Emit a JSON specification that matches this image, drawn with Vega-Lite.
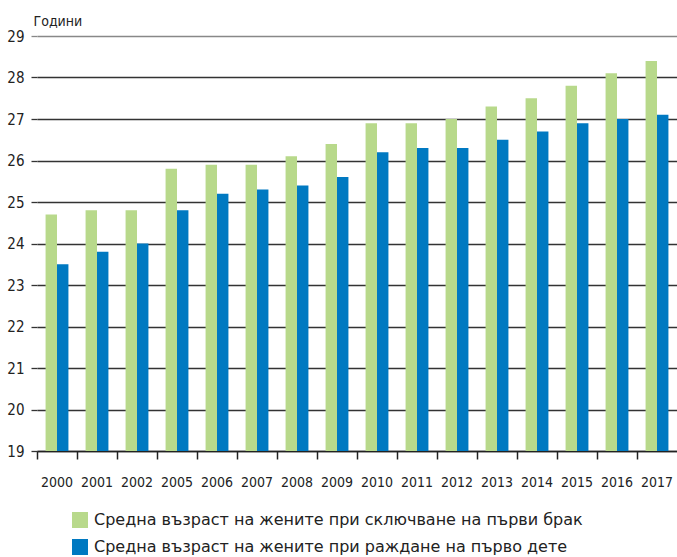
{
  "$schema": "https://vega.github.io/schema/vega-lite/v6.json",
  "width": 640,
  "height": 415,
  "autosize": "none",
  "padding": {"left": 37, "top": 36, "right": 0, "bottom": 106},
  "background": "white",
  "data": {"values": [
    {"year": "2000", "s": "Средна възраст на жените при сключване на първи брак", "v": 24.7},
    {"year": "2001", "s": "Средна възраст на жените при сключване на първи брак", "v": 24.8},
    {"year": "2002", "s": "Средна възраст на жените при сключване на първи брак", "v": 24.8},
    {"year": "2005", "s": "Средна възраст на жените при сключване на първи брак", "v": 25.8},
    {"year": "2006", "s": "Средна възраст на жените при сключване на първи брак", "v": 25.9},
    {"year": "2007", "s": "Средна възраст на жените при сключване на първи брак", "v": 25.9},
    {"year": "2008", "s": "Средна възраст на жените при сключване на първи брак", "v": 26.1},
    {"year": "2009", "s": "Средна възраст на жените при сключване на първи брак", "v": 26.4},
    {"year": "2010", "s": "Средна възраст на жените при сключване на първи брак", "v": 26.9},
    {"year": "2011", "s": "Средна възраст на жените при сключване на първи брак", "v": 26.9},
    {"year": "2012", "s": "Средна възраст на жените при сключване на първи брак", "v": 27.0},
    {"year": "2013", "s": "Средна възраст на жените при сключване на първи брак", "v": 27.3},
    {"year": "2014", "s": "Средна възраст на жените при сключване на първи брак", "v": 27.5},
    {"year": "2015", "s": "Средна възраст на жените при сключване на първи брак", "v": 27.8},
    {"year": "2016", "s": "Средна възраст на жените при сключване на първи брак", "v": 28.1},
    {"year": "2017", "s": "Средна възраст на жените при сключване на първи брак", "v": 28.4},
    {"year": "2000", "s": "Средна възраст на жените при раждане на първо дете", "v": 23.5},
    {"year": "2001", "s": "Средна възраст на жените при раждане на първо дете", "v": 23.8},
    {"year": "2002", "s": "Средна възраст на жените при раждане на първо дете", "v": 24.0},
    {"year": "2005", "s": "Средна възраст на жените при раждане на първо дете", "v": 24.8},
    {"year": "2006", "s": "Средна възраст на жените при раждане на първо дете", "v": 25.2},
    {"year": "2007", "s": "Средна възраст на жените при раждане на първо дете", "v": 25.3},
    {"year": "2008", "s": "Средна възраст на жените при раждане на първо дете", "v": 25.4},
    {"year": "2009", "s": "Средна възраст на жените при раждане на първо дете", "v": 25.6},
    {"year": "2010", "s": "Средна възраст на жените при раждане на първо дете", "v": 26.2},
    {"year": "2011", "s": "Средна възраст на жените при раждане на първо дете", "v": 26.3},
    {"year": "2012", "s": "Средна възраст на жените при раждане на първо дете", "v": 26.3},
    {"year": "2013", "s": "Средна възраст на жените при раждане на първо дете", "v": 26.5},
    {"year": "2014", "s": "Средна възраст на жените при раждане на първо дете", "v": 26.7},
    {"year": "2015", "s": "Средна възраст на жените при раждане на първо дете", "v": 26.9},
    {"year": "2016", "s": "Средна възраст на жените при раждане на първо дете", "v": 27.0},
    {"year": "2017", "s": "Средна възраст на жените при раждане на първо дете", "v": 27.1}
  ]},
  "mark": {"type": "bar", "clip": true},
  "encoding": {
    "x": {
      "field": "year", "type": "nominal", "sort": null,
      "scale": {"paddingInner": 0, "paddingOuter": 0},
      "axis": {
        "title": null, "labelAngle": 0, "bandPosition": 0,
        "ticks": true, "tickSize": 8, "tickColor": "#222", "tickWidth": 1.5,
        "domainColor": "#222", "domainWidth": 1.5,
        "labelPadding": 16, "labelFont": "DejaVu Sans Condensed", "labelFontSize": 14,
        "labelColor": "#222", "grid": false, "labelBaseline": "top"
      }
    },
    "xOffset": {
      "field": "s", "type": "nominal", "sort": null,
      "scale": {"paddingInner": 0, "paddingOuter": 0.75}
    },
    "y": {
      "field": "v", "type": "quantitative",
      "scale": {"domain": [19, 29], "nice": false, "zero": false},
      "axis": {
        "title": "Години", "titleAngle": 0, "titleAlign": "left", "titleBaseline": "alphabetic",
        "titleX": -4, "titleY": -11, "titleFont": "DejaVu Sans Condensed", "titleFontSize": 14,
        "titleFontWeight": "normal", "titleColor": "#222",
        "values": [19, 20, 21, 22, 23, 24, 25, 26, 27, 28, 29],
        "domain": false, "grid": true,
        "gridColor": {"condition": {"test": "datum.value === 29", "value": "#888"}, "value": "#333"},
        "gridWidth": 1.3,
        "tickColor": {"condition": {"test": "datum.value === 29", "value": "#888"}, "value": "#333"},
        "tickSize": 6, "tickWidth": 1.3,
        "labelPadding": 7, "labelFont": "DejaVu Sans Condensed", "labelFontSize": 15, "labelColor": "#222"
      }
    },
    "color": {
      "field": "s", "type": "nominal", "sort": null,
      "scale": {"range": ["#b8d98b", "#0079c1"]},
      "legend": {
        "title": null, "orient": "none", "legendX": 35, "legendY": 476, "direction": "vertical",
        "symbolType": "square", "symbolSize": 256, "symbolStrokeWidth": 0,
        "rowPadding": 11, "labelOffset": 6, "labelFont": "DejaVu Sans", "labelFontSize": 16,
        "labelColor": "#222", "labelLimit": 600
      }
    }
  },
  "config": {"view": {"stroke": null}}
}
